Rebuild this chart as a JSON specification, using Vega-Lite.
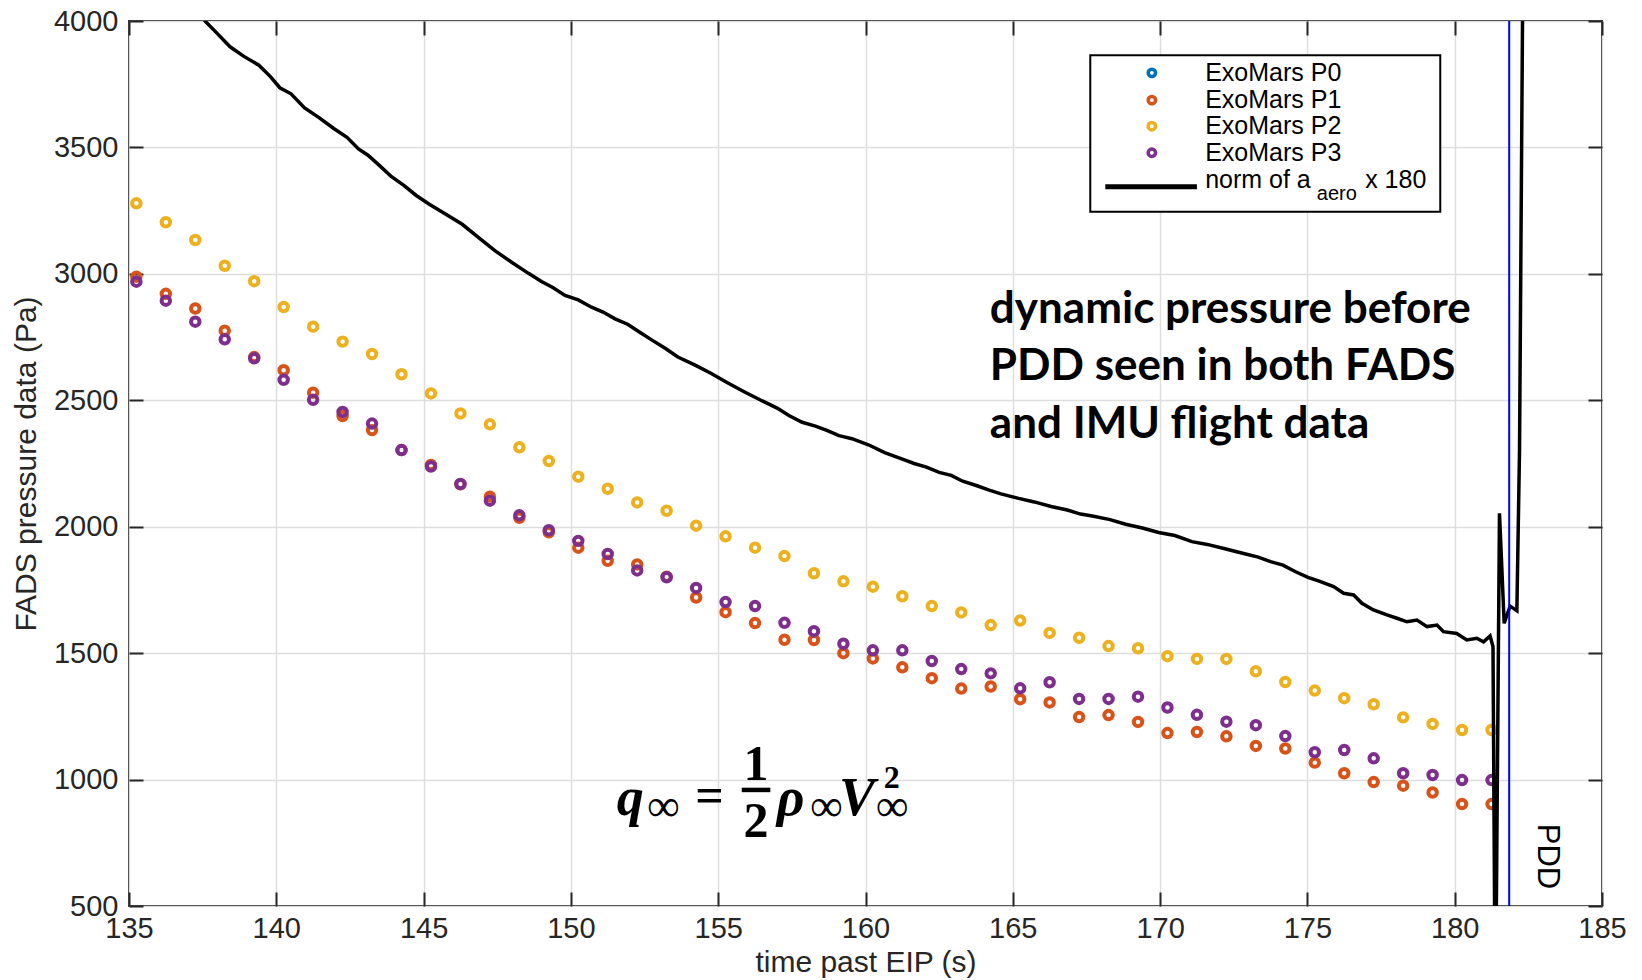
{
  "$schema": "https://vega.github.io/schema/vega-lite/v6.json",
  "width": 1473,
  "height": 885,
  "autosize": {"type": "none"},
  "padding": {"left": 129, "top": 21, "right": 40, "bottom": 74},
  "background": "white",
  "config": {
    "view": {"stroke": "#262626", "strokeWidth": 2},
    "axis": {
      "labelFont": "Liberation Sans", "labelFontSize": 29, "labelColor": "#262626",
      "titleFont": "Liberation Sans", "titleFontSize": 30, "titleColor": "#262626", "titleFontWeight": "normal",
      "gridColor": "#dedede", "gridWidth": 1.5, "tickColor": "#262626", "tickWidth": 2,
      "domain": false, "labelFlush": false, "labelOverlap": false
    }
  },
  "resolve": {"axis": {"x": "independent", "y": "independent"}},
  "datasets": {
    "fads": [
      {"t":135.25,"s":"ExoMars P1","p":2989},{"t":136.25,"s":"ExoMars P1","p":2921},{"t":137.25,"s":"ExoMars P1","p":2863},{"t":138.25,"s":"ExoMars P1","p":2775},{"t":139.25,"s":"ExoMars P1","p":2671},{"t":140.25,"s":"ExoMars P1","p":2619},{"t":141.25,"s":"ExoMars P1","p":2530},{"t":142.25,"s":"ExoMars P1","p":2438},{"t":143.25,"s":"ExoMars P1","p":2382},{"t":144.25,"s":"ExoMars P1","p":2303},{"t":145.25,"s":"ExoMars P1","p":2244},{"t":146.25,"s":"ExoMars P1","p":2168},{"t":147.25,"s":"ExoMars P1","p":2119},{"t":148.25,"s":"ExoMars P1","p":2035},{"t":149.25,"s":"ExoMars P1","p":1978},{"t":150.25,"s":"ExoMars P1","p":1917},{"t":151.25,"s":"ExoMars P1","p":1865},{"t":152.25,"s":"ExoMars P1","p":1851},{"t":153.25,"s":"ExoMars P1","p":1802},{"t":154.25,"s":"ExoMars P1","p":1720},{"t":155.25,"s":"ExoMars P1","p":1662},{"t":156.25,"s":"ExoMars P1","p":1619},{"t":157.25,"s":"ExoMars P1","p":1553},{"t":158.25,"s":"ExoMars P1","p":1552},{"t":159.25,"s":"ExoMars P1","p":1500},{"t":160.25,"s":"ExoMars P1","p":1479},{"t":161.25,"s":"ExoMars P1","p":1444},{"t":162.25,"s":"ExoMars P1","p":1401},{"t":163.25,"s":"ExoMars P1","p":1360},{"t":164.25,"s":"ExoMars P1","p":1368},{"t":165.25,"s":"ExoMars P1","p":1318},{"t":166.25,"s":"ExoMars P1","p":1305},{"t":167.25,"s":"ExoMars P1","p":1247},{"t":168.25,"s":"ExoMars P1","p":1255},{"t":169.25,"s":"ExoMars P1","p":1228},{"t":170.25,"s":"ExoMars P1","p":1184},{"t":171.25,"s":"ExoMars P1","p":1188},{"t":172.25,"s":"ExoMars P1","p":1171},{"t":173.25,"s":"ExoMars P1","p":1133},{"t":174.25,"s":"ExoMars P1","p":1123},{"t":175.25,"s":"ExoMars P1","p":1067},{"t":176.25,"s":"ExoMars P1","p":1025},{"t":177.25,"s":"ExoMars P1","p":990},{"t":178.25,"s":"ExoMars P1","p":976},{"t":179.25,"s":"ExoMars P1","p":949},{"t":180.25,"s":"ExoMars P1","p":903},{"t":181.25,"s":"ExoMars P1","p":903},
      {"t":135.25,"s":"ExoMars P2","p":3279},{"t":136.25,"s":"ExoMars P2","p":3204},{"t":137.25,"s":"ExoMars P2","p":3134},{"t":138.25,"s":"ExoMars P2","p":3032},{"t":139.25,"s":"ExoMars P2","p":2971},{"t":140.25,"s":"ExoMars P2","p":2869},{"t":141.25,"s":"ExoMars P2","p":2791},{"t":142.25,"s":"ExoMars P2","p":2732},{"t":143.25,"s":"ExoMars P2","p":2683},{"t":144.25,"s":"ExoMars P2","p":2603},{"t":145.25,"s":"ExoMars P2","p":2527},{"t":146.25,"s":"ExoMars P2","p":2448},{"t":147.25,"s":"ExoMars P2","p":2405},{"t":148.25,"s":"ExoMars P2","p":2314},{"t":149.25,"s":"ExoMars P2","p":2260},{"t":150.25,"s":"ExoMars P2","p":2198},{"t":151.25,"s":"ExoMars P2","p":2150},{"t":152.25,"s":"ExoMars P2","p":2096},{"t":153.25,"s":"ExoMars P2","p":2063},{"t":154.25,"s":"ExoMars P2","p":2004},{"t":155.25,"s":"ExoMars P2","p":1962},{"t":156.25,"s":"ExoMars P2","p":1917},{"t":157.25,"s":"ExoMars P2","p":1884},{"t":158.25,"s":"ExoMars P2","p":1816},{"t":159.25,"s":"ExoMars P2","p":1784},{"t":160.25,"s":"ExoMars P2","p":1763},{"t":161.25,"s":"ExoMars P2","p":1725},{"t":162.25,"s":"ExoMars P2","p":1686},{"t":163.25,"s":"ExoMars P2","p":1661},{"t":164.25,"s":"ExoMars P2","p":1611},{"t":165.25,"s":"ExoMars P2","p":1629},{"t":166.25,"s":"ExoMars P2","p":1580},{"t":167.25,"s":"ExoMars P2","p":1561},{"t":168.25,"s":"ExoMars P2","p":1528},{"t":169.25,"s":"ExoMars P2","p":1519},{"t":170.25,"s":"ExoMars P2","p":1488},{"t":171.25,"s":"ExoMars P2","p":1477},{"t":172.25,"s":"ExoMars P2","p":1477},{"t":173.25,"s":"ExoMars P2","p":1428},{"t":174.25,"s":"ExoMars P2","p":1386},{"t":175.25,"s":"ExoMars P2","p":1352},{"t":176.25,"s":"ExoMars P2","p":1322},{"t":177.25,"s":"ExoMars P2","p":1298},{"t":178.25,"s":"ExoMars P2","p":1246},{"t":179.25,"s":"ExoMars P2","p":1220},{"t":180.25,"s":"ExoMars P2","p":1196},{"t":181.25,"s":"ExoMars P2","p":1196},
      {"t":135.25,"s":"ExoMars P3","p":2969},{"t":136.25,"s":"ExoMars P3","p":2894},{"t":137.25,"s":"ExoMars P3","p":2811},{"t":138.25,"s":"ExoMars P3","p":2741},{"t":139.25,"s":"ExoMars P3","p":2666},{"t":140.25,"s":"ExoMars P3","p":2581},{"t":141.25,"s":"ExoMars P3","p":2502},{"t":142.25,"s":"ExoMars P3","p":2454},{"t":143.25,"s":"ExoMars P3","p":2408},{"t":144.25,"s":"ExoMars P3","p":2303},{"t":145.25,"s":"ExoMars P3","p":2238},{"t":146.25,"s":"ExoMars P3","p":2169},{"t":147.25,"s":"ExoMars P3","p":2103},{"t":148.25,"s":"ExoMars P3","p":2045},{"t":149.25,"s":"ExoMars P3","p":1986},{"t":150.25,"s":"ExoMars P3","p":1944},{"t":151.25,"s":"ExoMars P3","p":1892},{"t":152.25,"s":"ExoMars P3","p":1827},{"t":153.25,"s":"ExoMars P3","p":1800},{"t":154.25,"s":"ExoMars P3","p":1758},{"t":155.25,"s":"ExoMars P3","p":1702},{"t":156.25,"s":"ExoMars P3","p":1686},{"t":157.25,"s":"ExoMars P3","p":1620},{"t":158.25,"s":"ExoMars P3","p":1587},{"t":159.25,"s":"ExoMars P3","p":1537},{"t":160.25,"s":"ExoMars P3","p":1511},{"t":161.25,"s":"ExoMars P3","p":1511},{"t":162.25,"s":"ExoMars P3","p":1469},{"t":163.25,"s":"ExoMars P3","p":1437},{"t":164.25,"s":"ExoMars P3","p":1420},{"t":165.25,"s":"ExoMars P3","p":1361},{"t":166.25,"s":"ExoMars P3","p":1385},{"t":167.25,"s":"ExoMars P3","p":1319},{"t":168.25,"s":"ExoMars P3","p":1319},{"t":169.25,"s":"ExoMars P3","p":1328},{"t":170.25,"s":"ExoMars P3","p":1285},{"t":171.25,"s":"ExoMars P3","p":1256},{"t":172.25,"s":"ExoMars P3","p":1229},{"t":173.25,"s":"ExoMars P3","p":1215},{"t":174.25,"s":"ExoMars P3","p":1172},{"t":175.25,"s":"ExoMars P3","p":1108},{"t":176.25,"s":"ExoMars P3","p":1117},{"t":177.25,"s":"ExoMars P3","p":1084},{"t":178.25,"s":"ExoMars P3","p":1025},{"t":179.25,"s":"ExoMars P3","p":1018},{"t":180.25,"s":"ExoMars P3","p":998},{"t":181.25,"s":"ExoMars P3","p":998}
    ],
    "aero": [
      {"t":137.0,"v":4150},{"t":137.58,"v":4000},{"t":138.0,"v":3950},{"t":138.43,"v":3898},{"t":138.9,"v":3860},{"t":139.41,"v":3825},{"t":139.8,"v":3780},{"t":140.12,"v":3736},{"t":140.5,"v":3712},{"t":140.96,"v":3656},{"t":141.45,"v":3618},{"t":141.95,"v":3575},{"t":142.4,"v":3540},{"t":142.79,"v":3494},{"t":143.1,"v":3470},{"t":143.49,"v":3430},{"t":143.9,"v":3385},{"t":144.34,"v":3349},{"t":144.75,"v":3310},{"t":145.18,"v":3276},{"t":145.7,"v":3240},{"t":146.31,"v":3196},{"t":146.9,"v":3140},{"t":147.43,"v":3091},{"t":148.0,"v":3045},{"t":148.56,"v":3002},{"t":149.0,"v":2970},{"t":149.4,"v":2945},{"t":149.8,"v":2915},{"t":150.25,"v":2897},{"t":150.7,"v":2868},{"t":151.09,"v":2849},{"t":151.5,"v":2822},{"t":151.94,"v":2800},{"t":152.35,"v":2768},{"t":152.78,"v":2736},{"t":153.2,"v":2706},{"t":153.63,"v":2671},{"t":154.2,"v":2640},{"t":154.75,"v":2607},{"t":155.3,"v":2570},{"t":155.88,"v":2534},{"t":156.45,"v":2500},{"t":157.0,"v":2469},{"t":157.4,"v":2440},{"t":157.85,"v":2413},{"t":158.3,"v":2398},{"t":158.69,"v":2381},{"t":159.1,"v":2360},{"t":159.54,"v":2348},{"t":160.1,"v":2324},{"t":160.65,"v":2293},{"t":161.23,"v":2268},{"t":161.65,"v":2250},{"t":162.07,"v":2236},{"t":162.5,"v":2215},{"t":162.91,"v":2203},{"t":163.3,"v":2180},{"t":163.76,"v":2163},{"t":164.2,"v":2145},{"t":164.6,"v":2130},{"t":165.2,"v":2112},{"t":165.73,"v":2098},{"t":166.3,"v":2080},{"t":166.85,"v":2066},{"t":167.3,"v":2050},{"t":167.7,"v":2042},{"t":168.3,"v":2028},{"t":168.83,"v":2010},{"t":169.4,"v":1995},{"t":169.95,"v":1977},{"t":170.5,"v":1965},{"t":171.08,"v":1941},{"t":171.6,"v":1930},{"t":172.2,"v":1913},{"t":172.8,"v":1895},{"t":173.33,"v":1880},{"t":173.75,"v":1862},{"t":174.17,"v":1848},{"t":174.6,"v":1822},{"t":175.02,"v":1800},{"t":175.4,"v":1785},{"t":175.89,"v":1763},{"t":176.23,"v":1737},{"t":176.57,"v":1730},{"t":176.85,"v":1697},{"t":177.24,"v":1671},{"t":177.7,"v":1651},{"t":178.04,"v":1638},{"t":178.38,"v":1624},{"t":178.72,"v":1631},{"t":179.06,"v":1605},{"t":179.4,"v":1611},{"t":179.62,"v":1585},{"t":180.07,"v":1578},{"t":180.41,"v":1552},{"t":180.75,"v":1559},{"t":180.98,"v":1545},{"t":181.2,"v":1568},{"t":181.3,"v":1526},{"t":181.38,"v":0},{"t":181.52,"v":2053},{"t":181.68,"v":1618},{"t":181.88,"v":1686},{"t":182.11,"v":1668},{"t":182.2,"v":2300},{"t":182.32,"v":4300}
    ]
  },
  "layer": [
    {
      "data": {"name": "fads"},
      "mark": {"type": "point", "shape": "circle", "filled": false, "strokeWidth": 4, "size": 72, "opacity": 1},
      "encoding": {
        "x": {"field": "t", "type": "quantitative", "scale": {"domain": [135, 185], "nice": false, "zero": false},
              "axis": {"orient": "bottom", "values": [135,140,145,150,155,160,165,170,175,180,185], "format": "d", "ticks": false, "grid": true, "labelPadding": 8, "title": "time past EIP (s)", "titlePadding": 4}},
        "y": {"field": "p", "type": "quantitative", "scale": {"domain": [500, 4000], "nice": false, "zero": false},
              "axis": {"orient": "left", "values": [500,1000,1500,2000,2500,3000,3500,4000], "format": "d", "ticks": false, "grid": true, "labelPadding": 11, "title": "FADS pressure data (Pa)", "titlePadding": 12}},
        "color": {"field": "s", "type": "nominal", "scale": {"domain": ["ExoMars P0","ExoMars P1","ExoMars P2","ExoMars P3"], "range": ["#0072BD","#D95319","#EDB120","#7E2F8E"]}, "legend": null}
      }
    },
    {
      "data": {"name": "aero"},
      "mark": {"type": "line", "color": "black", "strokeWidth": 3.5, "clip": true},
      "encoding": {
        "x": {"field": "t", "type": "quantitative", "scale": {"domain": [135, 185], "nice": false, "zero": false},
              "axis": {"orient": "top", "offset": -14, "tickSize": 14, "labels": false, "grid": false, "title": null, "values": [135,140,145,150,155,160,165,170,175,180,185]}},
        "y": {"field": "v", "type": "quantitative", "scale": {"domain": [500, 4000], "nice": false, "zero": false},
              "axis": {"orient": "right", "offset": -14, "tickSize": 14, "labels": false, "grid": false, "title": null, "values": [500,1000,1500,2000,2500,3000,3500,4000]}}
      }
    },
    {
      "data": {"values": [{"t": 181.85}]},
      "mark": {"type": "rule", "color": "#0000FF", "strokeWidth": 2},
      "encoding": {
        "x": {"field": "t", "type": "quantitative", "scale": {"domain": [135, 185], "nice": false, "zero": false}, "axis": null}
      }
    },
    {
      "data": {"values": [{"t": 167.63, "t2": 179.51, "v": 3865, "v2": 3246}]},
      "mark": {"type": "rect", "fill": "white", "stroke": "black", "strokeWidth": 2},
      "encoding": {
        "x": {"field": "t", "type": "quantitative", "scale": {"domain": [135, 185], "nice": false, "zero": false},
              "axis": {"orient": "bottom", "offset": -14, "tickSize": 14, "labels": false, "grid": false, "title": null, "values": [135,140,145,150,155,160,165,170,175,180,185]}},
        "x2": {"field": "t2"},
        "y": {"field": "v", "type": "quantitative", "scale": {"domain": [500, 4000], "nice": false, "zero": false},
              "axis": {"orient": "left", "offset": -14, "tickSize": 14, "labels": false, "grid": false, "title": null, "values": [500,1000,1500,2000,2500,3000,3500,4000]}},
        "y2": {"field": "v2"}
      }
    },
    {
      "data": {"values": [
        {"s": "ExoMars P0", "t": 169.72, "v": 3795},
        {"s": "ExoMars P1", "t": 169.72, "v": 3687},
        {"s": "ExoMars P2", "t": 169.72, "v": 3584},
        {"s": "ExoMars P3", "t": 169.72, "v": 3479}
      ]},
      "mark": {"type": "point", "shape": "circle", "filled": false, "strokeWidth": 3.5, "size": 55, "opacity": 1},
      "encoding": {
        "x": {"field": "t", "type": "quantitative", "scale": {"domain": [135, 185], "nice": false, "zero": false}, "axis": null},
        "y": {"field": "v", "type": "quantitative", "scale": {"domain": [500, 4000], "nice": false, "zero": false}, "axis": null},
        "color": {"field": "s", "type": "nominal", "scale": {"domain": ["ExoMars P0","ExoMars P1","ExoMars P2","ExoMars P3"], "range": ["#0072BD","#D95319","#EDB120","#7E2F8E"]}, "legend": null}
      }
    },
    {
      "data": {"values": [
        {"label": "ExoMars P0", "t": 171.53, "v": 3795},
        {"label": "ExoMars P1", "t": 171.53, "v": 3687},
        {"label": "ExoMars P2", "t": 171.53, "v": 3584},
        {"label": "ExoMars P3", "t": 171.53, "v": 3479},
        {"label": "norm of a", "t": 171.53, "v": 3371},
        {"label": "x 180", "t": 176.96, "v": 3371}
      ]},
      "mark": {"type": "text", "font": "Liberation Sans", "fontSize": 25, "align": "left", "baseline": "middle", "color": "black"},
      "encoding": {
        "x": {"field": "t", "type": "quantitative", "scale": {"domain": [135, 185], "nice": false, "zero": false}, "axis": null},
        "y": {"field": "v", "type": "quantitative", "scale": {"domain": [500, 4000], "nice": false, "zero": false}, "axis": null},
        "text": {"field": "label", "type": "nominal"}
      }
    },
    {
      "data": {"values": [{"label": "aero", "t": 175.32, "v": 3316}]},
      "mark": {"type": "text", "font": "Liberation Sans", "fontSize": 20, "align": "left", "baseline": "middle", "color": "black"},
      "encoding": {
        "x": {"field": "t", "type": "quantitative", "scale": {"domain": [135, 185], "nice": false, "zero": false}, "axis": null},
        "y": {"field": "v", "type": "quantitative", "scale": {"domain": [500, 4000], "nice": false, "zero": false}, "axis": null},
        "text": {"field": "label", "type": "nominal"}
      }
    },
    {
      "data": {"values": [{"t": 168.14, "t2": 171.25, "v": 3344}]},
      "mark": {"type": "rule", "color": "black", "strokeWidth": 5},
      "encoding": {
        "x": {"field": "t", "type": "quantitative", "scale": {"domain": [135, 185], "nice": false, "zero": false}, "axis": null},
        "x2": {"field": "t2"},
        "y": {"field": "v", "type": "quantitative", "scale": {"domain": [500, 4000], "nice": false, "zero": false}, "axis": null}
      }
    },
    {
      "data": {"values": [{"label": "dynamic pressure before\nPDD seen in both FADS\nand IMU flight data", "t": 164.22, "v": 2807}]},
      "mark": {"type": "text", "font": "Lato", "fontWeight": "bold", "fontSize": 44, "align": "left", "baseline": "alphabetic", "lineBreak": "\n", "lineHeight": 57.5, "color": "black"},
      "encoding": {
        "x": {"field": "t", "type": "quantitative", "scale": {"domain": [135, 185], "nice": false, "zero": false}, "axis": null},
        "y": {"field": "v", "type": "quantitative", "scale": {"domain": [500, 4000], "nice": false, "zero": false}, "axis": null},
        "text": {"field": "label", "type": "nominal"}
      }
    },
    {
      "data": {"values": [{"label": "PDD", "t": 183.12, "v": 696}]},
      "mark": {"type": "text", "font": "Liberation Sans", "fontSize": 31, "align": "center", "baseline": "middle", "angle": 90, "color": "black"},
      "encoding": {
        "x": {"field": "t", "type": "quantitative", "scale": {"domain": [135, 185], "nice": false, "zero": false}, "axis": null},
        "y": {"field": "v", "type": "quantitative", "scale": {"domain": [500, 4000], "nice": false, "zero": false}, "axis": null},
        "text": {"field": "label", "type": "nominal"}
      }
    },
    {
      "data": {"values": [
        {"label": "q", "t": 151.56, "v": 861},
        {"label": "ρ", "t": 156.99, "v": 861},
        {"label": "V", "t": 159.1, "v": 861}
      ]},
      "mark": {"type": "text", "font": "Liberation Serif", "fontStyle": "italic", "fontWeight": "bold", "fontSize": 54, "align": "left", "baseline": "alphabetic", "color": "black"},
      "encoding": {
        "x": {"field": "t", "type": "quantitative", "scale": {"domain": [135, 185], "nice": false, "zero": false}, "axis": null},
        "y": {"field": "v", "type": "quantitative", "scale": {"domain": [500, 4000], "nice": false, "zero": false}, "axis": null},
        "text": {"field": "label", "type": "nominal"}
      }
    },
    {
      "data": {"values": [
        {"label": "∞", "t": 152.58, "v": 835},
        {"label": "∞", "t": 158.12, "v": 835},
        {"label": "∞", "t": 160.35, "v": 835}
      ]},
      "mark": {"type": "text", "font": "Liberation Serif", "fontSize": 46, "align": "left", "baseline": "alphabetic", "color": "black"},
      "encoding": {
        "x": {"field": "t", "type": "quantitative", "scale": {"domain": [135, 185], "nice": false, "zero": false}, "axis": null},
        "y": {"field": "v", "type": "quantitative", "scale": {"domain": [500, 4000], "nice": false, "zero": false}, "axis": null},
        "text": {"field": "label", "type": "nominal"}
      }
    },
    {
      "data": {"values": [{"label": "=", "t": 154.22, "v": 870}]},
      "mark": {"type": "text", "font": "Liberation Serif", "fontWeight": "bold", "fontSize": 50, "align": "left", "baseline": "alphabetic", "color": "black"},
      "encoding": {
        "x": {"field": "t", "type": "quantitative", "scale": {"domain": [135, 185], "nice": false, "zero": false}, "axis": null},
        "y": {"field": "v", "type": "quantitative", "scale": {"domain": [500, 4000], "nice": false, "zero": false}, "axis": null},
        "text": {"field": "label", "type": "nominal"}
      }
    },
    {
      "data": {"values": [
        {"label": "1", "t": 156.28, "v": 998},
        {"label": "2", "t": 156.28, "v": 773}
      ]},
      "mark": {"type": "text", "font": "Liberation Serif", "fontWeight": "bold", "fontSize": 50, "align": "center", "baseline": "alphabetic", "color": "black"},
      "encoding": {
        "x": {"field": "t", "type": "quantitative", "scale": {"domain": [135, 185], "nice": false, "zero": false}, "axis": null},
        "y": {"field": "v", "type": "quantitative", "scale": {"domain": [500, 4000], "nice": false, "zero": false}, "axis": null},
        "text": {"field": "label", "type": "nominal"}
      }
    },
    {
      "data": {"values": [{"t": 155.8, "t2": 156.77, "v": 959}]},
      "mark": {"type": "rule", "color": "black", "strokeWidth": 4.5},
      "encoding": {
        "x": {"field": "t", "type": "quantitative", "scale": {"domain": [135, 185], "nice": false, "zero": false}, "axis": null},
        "x2": {"field": "t2"},
        "y": {"field": "v", "type": "quantitative", "scale": {"domain": [500, 4000], "nice": false, "zero": false}, "axis": null}
      }
    },
    {
      "data": {"values": [{"label": "2", "t": 160.62, "v": 965}]},
      "mark": {"type": "text", "font": "Liberation Serif", "fontWeight": "bold", "fontSize": 32, "align": "left", "baseline": "alphabetic", "color": "black"},
      "encoding": {
        "x": {"field": "t", "type": "quantitative", "scale": {"domain": [135, 185], "nice": false, "zero": false}, "axis": null},
        "y": {"field": "v", "type": "quantitative", "scale": {"domain": [500, 4000], "nice": false, "zero": false}, "axis": null},
        "text": {"field": "label", "type": "nominal"}
      }
    }
  ]
}
